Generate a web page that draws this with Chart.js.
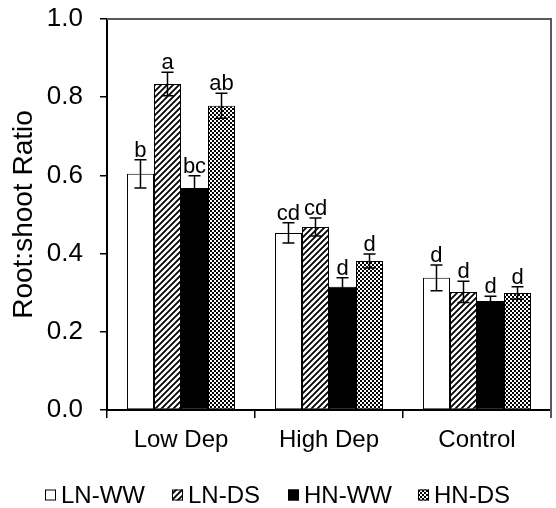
<!DOCTYPE html>
<html>
<head>
<meta charset="utf-8">
<script src="https://cdn.jsdelivr.net/npm/chart.js@4.4.1/dist/chart.umd.min.js"></script>
<style>
html,body{margin:0;padding:0;background:#fff;}
#wrap{width:556px;height:508px;position:relative;}
</style>
</head>
<body>
<div id="wrap"><canvas id="c" width="556" height="508"></canvas></div>
<script>
// ---- data ----
const categories = ['Low Dep', 'High Dep', 'Control'];
const seriesNames = ['LN-WW', 'LN-DS', 'HN-WW', 'HN-DS'];
const lnWW = [0.604, 0.453, 0.338];
const lnDS = [0.834, 0.468, 0.302];
const hnWW = [0.568, 0.315, 0.279];
const hnDS = [0.778, 0.381, 0.299];
const lnWWErr = [0.036, 0.026, 0.033];
const lnDSErr = [0.030, 0.023, 0.027];
const hnWWErr = [0.031, 0.023, 0.012];
const hnDSErr = [0.032, 0.018, 0.016];
const lnWWLetters = ['b', 'cd', 'd'];
const lnDSLetters = ['a', 'cd', 'd'];
const hnWWLetters = ['bc', 'd', 'd'];
const hnDSLetters = ['ab', 'd', 'd'];
const yTicks = [0, 0.2, 0.4, 0.6, 0.8, 1.0];

const FONT = "'Liberation Sans', Arial, sans-serif";

function diagPattern() {
  const s = 6, c = document.createElement('canvas');
  c.width = s; c.height = s;
  const g = c.getContext('2d');
  g.fillStyle = '#fff'; g.fillRect(0, 0, s, s);
  g.strokeStyle = '#000'; g.lineWidth = 1.8;
  g.beginPath();
  g.moveTo(-1, s + 1); g.lineTo(s + 1, -1);
  g.moveTo(-1, 1); g.lineTo(1, -1);
  g.moveTo(s - 1, s + 1); g.lineTo(s + 1, s - 1);
  g.stroke();
  return g.createPattern(c, 'repeat');
}
function checkPattern() {
  const c = document.createElement('canvas');
  c.width = 4; c.height = 4;
  const g = c.getContext('2d');
  g.fillStyle = '#fff'; g.fillRect(0, 0, 4, 4);
  g.fillStyle = '#000'; g.fillRect(0, 0, 2, 2); g.fillRect(2, 2, 2, 2);
  return g.createPattern(c, 'repeat');
}
const fills = ['#ffffff', diagPattern(), '#000000', checkPattern()];
const values = [lnWW, lnDS, hnWW, hnDS];
const errs = [lnWWErr, lnDSErr, hnWWErr, hnDSErr];
const letters = [lnWWLetters, lnDSLetters, hnWWLetters, hnDSLetters];

const datasets = seriesNames.map((n, i) => ({
  label: n,
  data: values[i],
  backgroundColor: fills[i],
  borderColor: '#000',
  borderWidth: 1,
  borderSkipped: false,
  categoryPercentage: 0.73,
  barPercentage: 1.0
}));

const extrasPlugin = {
  id: 'extras',
  afterDatasetsDraw(chart) {
    const ctx = chart.ctx, y = chart.scales.y, ca = chart.chartArea;
    ctx.save();
    ctx.strokeStyle = '#595959'; ctx.lineWidth = 2;
    ctx.beginPath();
    ctx.moveTo(ca.left, ca.top); ctx.lineTo(ca.right, ca.top); ctx.lineTo(ca.right, ca.bottom + 8);
    ctx.stroke();
    ctx.strokeStyle = '#000'; ctx.lineWidth = 1.5;
    ctx.fillStyle = '#000';
    ctx.font = '22px ' + FONT;
    ctx.textAlign = 'center'; ctx.textBaseline = 'alphabetic';
    chart.data.datasets.forEach((ds, i) => {
      const meta = chart.getDatasetMeta(i);
      meta.data.forEach((bar, j) => {
        const v = ds.data[j], e = errs[i][j];
        const yt = y.getPixelForValue(v + e), yb = y.getPixelForValue(v - e);
        const x = bar.x, hw = 6;
        ctx.beginPath();
        ctx.moveTo(x, yt); ctx.lineTo(x, yb);
        ctx.moveTo(x - hw, yt); ctx.lineTo(x + hw, yt);
        ctx.moveTo(x - hw, yb); ctx.lineTo(x + hw, yb);
        ctx.stroke();
        ctx.fillText(letters[i][j], x, yt - 3);
      });
    });
    ctx.restore();
  },
  afterDraw(chart) {
    const ctx = chart.ctx;
    const boxX = [45, 172, 288, 418];
    const yc = 495, bs = 11;
    ctx.save();
    ctx.font = '24px ' + FONT;
    ctx.textBaseline = 'middle'; ctx.textAlign = 'left';
    seriesNames.forEach((n, i) => {
      ctx.fillStyle = fills[i];
      ctx.fillRect(boxX[i], yc - bs / 2, bs, bs);
      ctx.strokeStyle = '#000'; ctx.lineWidth = 1;
      ctx.strokeRect(boxX[i] + 0.5, yc - bs / 2 + 0.5, bs - 1, bs - 1);
      ctx.fillStyle = '#000';
      ctx.fillText(n, boxX[i] + bs + 5, yc + 1);
    });
    ctx.restore();
  }
};

new Chart(document.getElementById('c'), {
  type: 'bar',
  data: { labels: categories, datasets },
  options: {
    responsive: false,
    animation: false,
    devicePixelRatio: 1,
    layout: { autoPadding: false, padding: { left: 0, right: 5, top: 19, bottom: 0 } },
    plugins: { legend: { display: false }, tooltip: { enabled: false } },
    scales: {
      x: {
        afterFit(s) { s.height = 98; s.paddingLeft = 0; s.paddingRight = 0; },
        grid: { offset: true, drawOnChartArea: false, drawTicks: true, tickLength: 8, color: '#000', lineWidth: 1.5 },
        border: { display: true, color: '#000', width: 2 },
        ticks: { color: '#000', font: { family: FONT, size: 24 }, padding: 8 }
      },
      y: {
        min: 0, max: 1,
        afterFit(s) { s.width = 107; s.paddingTop = 0; s.paddingBottom = 0; },
        afterBuildTicks(s) { s.ticks = yTicks.map(v => ({ value: v })); },
        grid: { drawOnChartArea: false, drawTicks: true, tickLength: 7, color: '#000', lineWidth: 1.5 },
        border: { display: true, color: '#000', width: 2 },
        ticks: { color: '#000', font: { family: FONT, size: 26 }, padding: 17, callback: v => Number(v).toFixed(1) },
        title: { display: true, text: 'Root:shoot Ratio', color: '#000', font: { family: FONT, size: 28 }, padding: { top: 7, bottom: 0 } }
      }
    }
  },
  plugins: [extrasPlugin]
});
</script>
</body>
</html>
